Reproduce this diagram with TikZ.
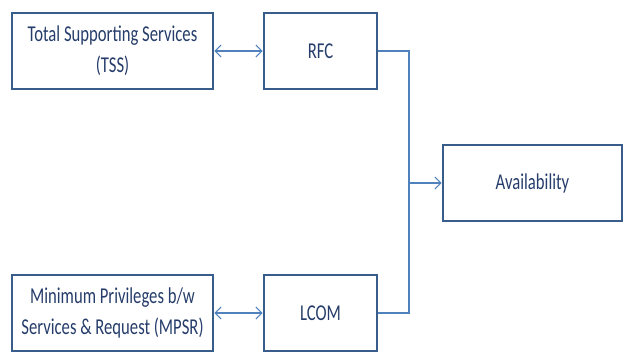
\documentclass[tikz,border=0pt]{standalone}
\usepackage{fontspec}
\setmainfont{Carlito}[FakeStretch=0.735]
\usetikzlibrary{arrows.meta}
\definecolor{boxline}{HTML}{385D8A}
\definecolor{linkline}{HTML}{4F81BD}
\definecolor{labeltext}{HTML}{263D6B}
\begin{document}
\begin{tikzpicture}[x=0.75pt,y=-0.75pt,
  blockbox/.style={draw=boxline, line width=1.9pt, fill=white, inner sep=0pt,
    minimum height=57pt, align=center, text=labeltext,
    font=\fontsize{17}{23.3}\selectfont},
  widebox/.style={blockbox, minimum width=150.75pt},
  narrowbox/.style={blockbox, minimum width=84.75pt},
  resultbox/.style={blockbox, minimum width=134.25pt},
  link/.style={draw=linkline, line width=0.8pt},
  barb/.tip={Straight Barb[length=4.5pt,width=9pt,line width=0.8pt]}]
  \useasboundingbox (0,0) rectangle (625,355);

  % boxes
  \node[widebox]   (tss)   at (112.5,51)  {Total Supporting Services\\(TSS)};
  \node[narrowbox] (rfc)   at (320.5,51)  {RFC};
  \node[widebox]   (mpsr)  at (112.5,313) {Minimum Privileges b/w\\Services \& Request (MPSR)};
  \node[narrowbox] (lcom)  at (320.5,313) {LCOM};
  \node[resultbox] (avail) at (532.5,183) {Availability};

  % two-way links between the left boxes and the metrics
  \draw[link, barb-barb] (tss.east) -- (rfc.west);
  \draw[link, barb-barb] (mpsr.east) -- (lcom.west);

  % bracket joining both metrics into Availability
  \coordinate (top)  at (409,51);
  \coordinate (bot)  at (409,313);
  \coordinate (join) at (409,183);
  \draw[link] (rfc.east) -- (top) -- (bot) -- (lcom.east);
  \draw[link, -barb] (join) -- (avail.west);
\end{tikzpicture}
\end{document}
